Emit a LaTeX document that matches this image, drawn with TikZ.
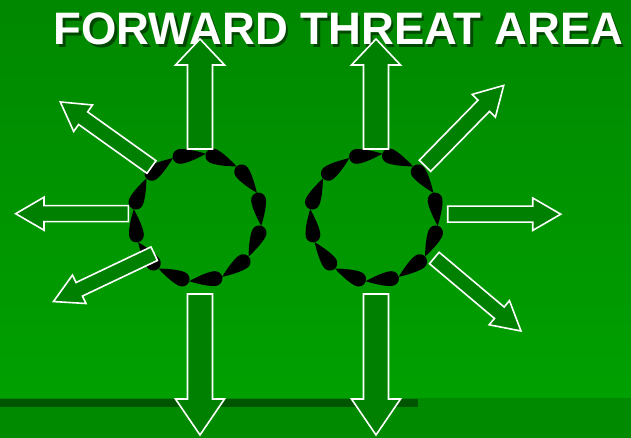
\documentclass[tikz,border=0pt]{standalone}
\usepackage{fontspec}
\setmainfont{Liberation Sans}
\definecolor{bgtop}{RGB}{0,136,0}
\definecolor{bgbot}{RGB}{0,160,0}
\definecolor{arrfill}{RGB}{0,128,0}
\definecolor{bandcol}{RGB}{0,85,0}
\definecolor{floorcol}{RGB}{0,138,0}
\tikzset{
  arr/.style={fill=arrfill,draw=white,line width=1.6pt,line join=miter},
  tear/.style={fill=black},
  titletext/.style={inner sep=0pt,anchor=base,font=\bfseries\fontsize{45.5}{52}\selectfont}
}
% #1,#2 tail centre; #3 angle; #4 shaft length; #5 shaft width; #6 head width; #7 head length
\newcommand\fatarrow[7]{%
  \begin{scope}[shift={(#1,#2)},rotate=#3]
    \draw[arr] (0,{-#5/2}) -- ({#4},{-#5/2}) -- ({#4},{-#6/2}) -- ({#4+#7},0)
      -- ({#4},{#6/2}) -- ({#4},{#5/2}) -- (0,{#5/2}) -- cycle;
  \end{scope}}
% #1,#2 ring centre; #3 angle of the head
\newcommand\teardrop[3]{%
  \begin{scope}[shift={(#1,#2)},shift={(#3:63.5)},rotate={#3-100}]
    \fill[tear] (26,0) .. controls (17,3.8) and (6.5,7.4) .. (0,7.4)
      arc[start angle=90,end angle=270,radius=7.4]
      .. controls (6.5,-7.4) and (17,-3.8) .. (26,0) -- cycle;
  \end{scope}}
\begin{document}
\begin{tikzpicture}[x=1pt,y=1pt]
\useasboundingbox (0,0) rectangle (631,438);
% background
\shade[top color=bgtop,bottom color=bgbot] (0,40) rectangle (631,438);
\fill[floorcol] (0,0) rectangle (631,40);
\fill[bandcol] (0,31) rectangle (418,39);
% title with shadow
\node[titletext,text=black!80!green,opacity=0.75] at (341,390.5) {FORWARD THREAT AREA};
\node[titletext,text=white] (title) at (338.5,393) {FORWARD THREAT AREA};
% rings of teardrops
\foreach \p in {106,76,...,-224} {
  \teardrop{197.5}{220.5}{\p}
  \teardrop{374}{220.5}{\p}
}
% vertical arrows
\fatarrow{200}{289}{90}{84}{25}{49}{26}
\fatarrow{376}{289}{90}{84}{25}{49}{26}
\fatarrow{200}{144}{-90}{105}{25}{49}{36}
\fatarrow{376}{144}{-90}{105}{25}{49}{36}
% left ring side arrows
\fatarrow{151.5}{271}{144.5}{84}{15.5}{32.5}{28}
\fatarrow{128.3}{224.3}{180}{84.3}{16}{33}{28.3}
\fatarrow{154.2}{184.3}{205.4}{83}{15}{31.5}{28.5}
% right ring side arrows
\fatarrow{425}{272.2}{45.6}{84}{16}{32.5}{28.5}
\fatarrow{447.7}{223.8}{0}{85}{16}{32.5}{28}
\fatarrow{434.3}{180}{-40.1}{85}{15}{31.5}{28.3}
\end{tikzpicture}
\end{document}
